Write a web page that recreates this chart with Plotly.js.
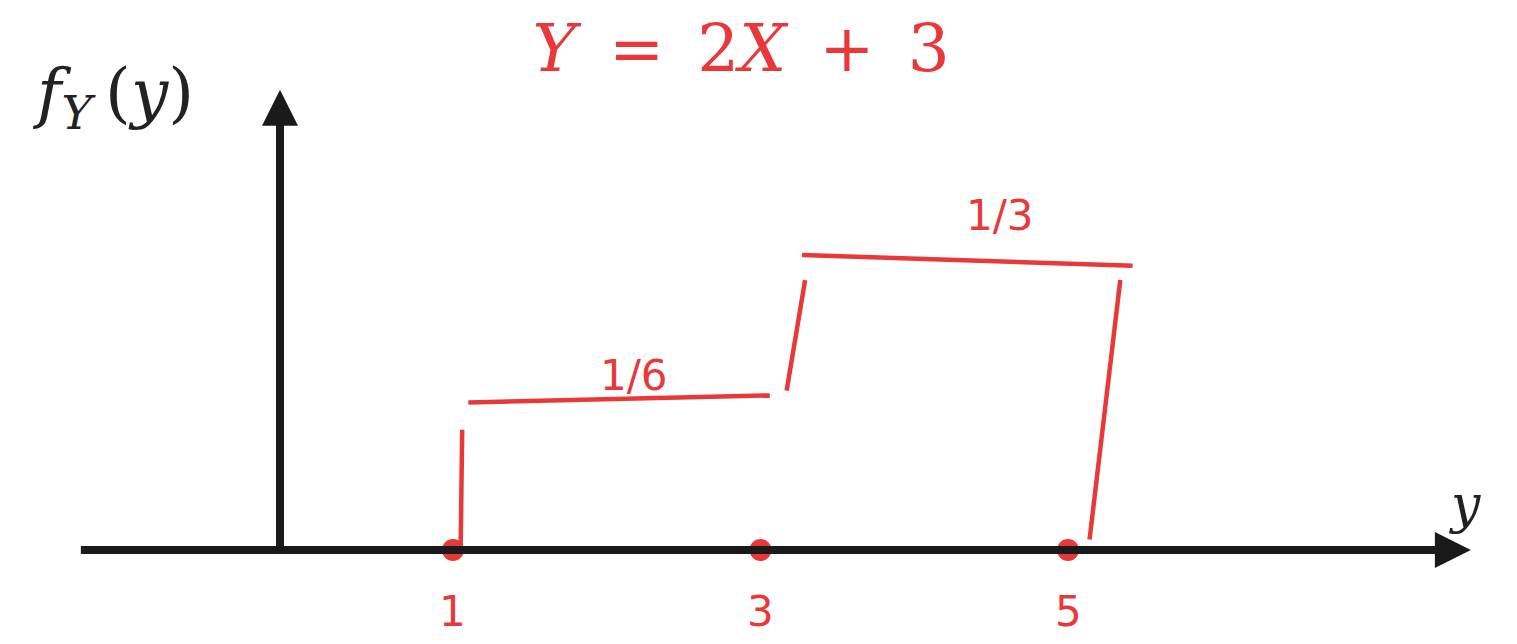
<!DOCTYPE html>
<html>
<head>
<meta charset="utf-8">
<script src="https://cdn.plot.ly/plotly-3.0.1.min.js"></script>
<style>html,body{margin:0;padding:0;background:#fff;}#chart{width:1517px;height:644px;}</style>
</head>
<body>
<div id="chart"></div>
<script>
// ---- data ----
const supportPoints = [1, 3, 5];            // marked points on the y axis
const tickLabels = ['1', '3', '5'];
const densityValues = [1/6, 1/3];           // f_Y(y) on [1,3] and [3,5]
const densityLabels = ['1/6', '1/3'];
const drawnStarts = [1.1, 3.27];            // hand-drawn segment starts
const drawnEnds = [3.06, 5.42];             // hand-drawn segment ends
const drawnEndShift = [0.008, -0.012];      // hand-drawn slope of segments
const drawnJumpXTop = [1.06, 3.29, 5.34];   // hand-drawn vertical strokes (top x)
const drawnJumpXBottom = [1.05, 3.17, 5.14];// hand-drawn vertical strokes (bottom x)
const drawnJumpLow = [0.005, 0.18, 0.012];
const drawnJumpHigh = [0.136, 0.305, 0.305];
const densityLabelX = [2.18, 4.56];

const RED = '#e8383a';
const traces = [];
// horizontal density segments
densityValues.forEach((v, i) => {
  traces.push({x: [drawnStarts[i], drawnEnds[i]], y: [v, v + drawnEndShift[i]],
    mode: 'lines', line: {color: RED, width: 4.5}, hoverinfo: 'skip'});
});
// vertical strokes
drawnJumpXTop.forEach((x, i) => {
  traces.push({x: [drawnJumpXBottom[i], x], y: [drawnJumpLow[i], drawnJumpHigh[i]],
    mode: 'lines', line: {color: RED, width: 4.5}, hoverinfo: 'skip'});
});
// points on axis
traces.push({x: supportPoints, y: supportPoints.map(() => 0), mode: 'markers',
  marker: {color: RED, size: 22}, hoverinfo: 'skip'});

const annotations = [];
// axes arrows
annotations.push({x: 7.62, y: 0, ax: -1.43, ay: 0, xref: 'x', yref: 'y', axref: 'x', ayref: 'y',
  showarrow: true, arrowhead: 2, arrowsize: 0.9, arrowwidth: 8, arrowcolor: '#1a1a1a', text: ''});
annotations.push({x: -0.125, y: 0.52, ax: -0.125, ay: 0, xref: 'x', yref: 'y', axref: 'x', ayref: 'y',
  showarrow: true, arrowhead: 2, arrowsize: 0.9, arrowwidth: 8, arrowcolor: '#1a1a1a', text: ''});
// tick labels
supportPoints.forEach((p, i) => {
  annotations.push({x: p, y: -0.07, xref: 'x', yref: 'y', showarrow: false, text: tickLabels[i],
    font: {family: 'DejaVu Sans', size: 42, color: RED}});
});
// density labels
densityValues.forEach((v, i) => {
  annotations.push({x: densityLabelX[i], y: v + (i === 0 ? 0.03 : 0.045), xref: 'x', yref: 'y', showarrow: false,
    text: densityLabels[i], font: {family: 'DejaVu Sans', size: 42, color: RED}});
});
// axis names
annotations.push({x: -1.21, y: 0.512, xref: 'x', yref: 'y', showarrow: false,
  text: '<i>f</i><sub><i>Y</i></sub>&#8201;(<i>y</i>)', font: {family: 'DejaVu Serif', size: 66, color: '#222'}});
annotations.push({x: 7.58, y: 0.052, xref: 'x', yref: 'y', showarrow: false,
  text: '<i>y</i>', font: {family: 'DejaVu Serif', size: 52, color: '#222'}});

const layout = {
  width: 1517, height: 644,
  margin: {l: 0, r: 0, t: 0, b: 0},
  paper_bgcolor: '#fff', plot_bgcolor: '#fff',
  showlegend: false,
  title: {text: '<i>Y</i>&#8194;=&#8194;2<i>X</i>&#8194;+&#8194;3', x: 0.4885, y: 0.925, xanchor: 'center', yanchor: 'middle',
    font: {family: 'DejaVu Serif', size: 66, color: RED}},
  xaxis: {range: [-1.946, 7.92], visible: false, fixedrange: true},
  yaxis: {range: [-0.1062, 0.6215], visible: false, fixedrange: true},
  annotations: annotations
};
Plotly.newPlot('chart', traces, layout, {displayModeBar: false, staticPlot: true});
</script>
</body>
</html>
